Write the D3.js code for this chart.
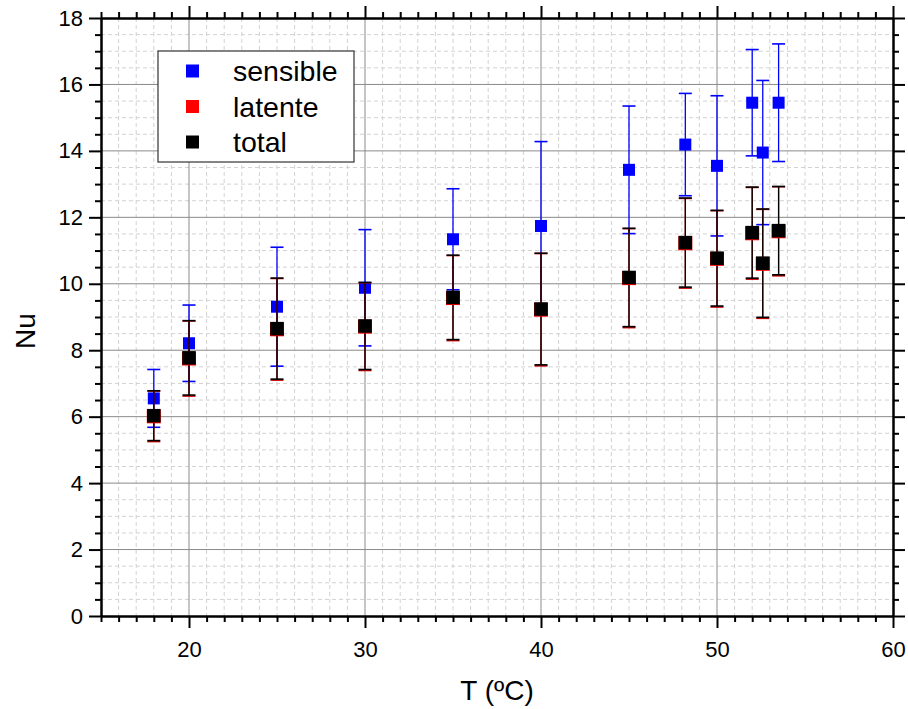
<!DOCTYPE html>
<html lang="en">
<head>
<meta charset="UTF-8">
<title>Nu vs T</title>
<script src="https://cdn.jsdelivr.net/npm/d3@7/dist/d3.min.js"></script>
<style>
  body { margin: 0; background: #fff; }
  text { font-family: Arial, "Liberation Sans", sans-serif; fill: #000; }
</style>
</head>
<body>
<div class="chart"></div>
<script>
// data
const temps       = [18, 20, 25, 30, 35, 40, 45, 48.2, 50, 52, 52.6, 53.5]
const sensible    = [6.55, 8.21, 9.31, 9.88, 11.34, 11.74, 13.43, 14.19, 13.55, 15.45, 13.95, 15.45]
const sensibleErr = [0.87, 1.15, 1.79, 1.75, 1.52, 2.54, 1.92, 1.54, 2.11, 1.60, 2.17, 1.77]
const latente     = [6.01, 7.75, 8.63, 8.71, 9.57, 9.22, 10.17, 11.22, 10.75, 11.52, 10.60, 11.58]
const latenteErr  = [0.76, 1.13, 1.53, 1.32, 1.28, 1.69, 1.49, 1.35, 1.45, 1.38, 1.64, 1.34]
const total       = [6.03, 7.77, 8.65, 8.73, 9.59, 9.24, 10.19, 11.24, 10.77, 11.54, 10.62, 11.60]
const totalErr    = [0.75, 1.12, 1.52, 1.31, 1.27, 1.68, 1.48, 1.34, 1.44, 1.37, 1.63, 1.33]
const xMajor = [20, 30, 40, 50, 60]
const yMajor = [0, 2, 4, 6, 8, 10, 12, 14, 16, 18]
const seriesNames = ['sensible', 'latente', 'total']
const seriesColors = ['#0000ff', '#ff0000', '#000000']

const W = 908, H = 709
const pLeft = 101, pRight = 893, pTop = 18, pBottom = 616

const x = d3.scaleLinear().domain([15, 60]).range([pLeft, pRight])
const y = d3.scaleLinear().domain([0, 18]).range([pBottom, pTop])

const xMinor = d3.range(15, 60.01, 1).filter(v => xMajor.indexOf(v) < 0)
const yMinor = d3.range(0, 18.01, 0.5).filter(v => yMajor.indexOf(v) < 0)

const svg = d3.select('.chart').append('svg').attr('width', W).attr('height', H)

// grid
const grid = svg.append('g')
grid.selectAll('.vmin').data(xMinor).enter().append('line')
    .attr('x1', d => x(d)).attr('x2', d => x(d)).attr('y1', pTop).attr('y2', pBottom)
    .attr('stroke', '#d2d2d2').attr('stroke-dasharray', '4,3')
grid.selectAll('.hmin').data(yMinor).enter().append('line')
    .attr('y1', d => y(d)).attr('y2', d => y(d)).attr('x1', pLeft).attr('x2', pRight)
    .attr('stroke', '#d2d2d2').attr('stroke-dasharray', '4,3')
grid.selectAll('.vmaj').data(xMajor.slice(0, -1)).enter().append('line')
    .attr('x1', d => x(d)).attr('x2', d => x(d)).attr('y1', pTop).attr('y2', pBottom)
    .attr('stroke', '#8a8a8a')
grid.selectAll('.hmaj').data(yMajor.slice(1, -1)).enter().append('line')
    .attr('y1', d => y(d)).attr('y2', d => y(d)).attr('x1', pLeft).attr('x2', pRight)
    .attr('stroke', '#8a8a8a')

// axes: majors with labels, minors as short ticks, on all four sides
function styleAxis(g) {
    g.selectAll('.domain').attr('stroke-width', 2)
    g.selectAll('.tick line').attr('stroke-width', 2)
    g.selectAll('.tick text').style('font-size', '22px').style('font-family', 'Arial, "Liberation Sans", sans-serif')
}
const axes = [
    [d3.axisBottom, x, xMajor, xMinor, true, 'translate(0,' + pBottom + ')'],
    [d3.axisTop, x, xMajor, xMinor, false, 'translate(0,' + pTop + ')'],
    [d3.axisLeft, y, yMajor, yMinor, true, 'translate(' + pLeft + ',0)'],
    [d3.axisRight, y, yMajor, yMinor, false, 'translate(' + pRight + ',0)']
]
axes.forEach(a => {
    const [fn, sc, maj, min, labels, tr] = a
    svg.append('g').attr('transform', tr)
        .call(fn(sc).tickValues(min).tickSize(6).tickSizeOuter(0).tickFormat(''))
        .call(styleAxis)
    const gm = svg.append('g').attr('transform', tr)
        .call(fn(sc).tickValues(maj).tickSize(12).tickSizeOuter(0).tickPadding(labels ? 6 : 0)
            .tickFormat(labels ? d3.format('d') : ''))
        .call(styleAxis)
    if (fn === d3.axisBottom) gm.selectAll('.tick text').attr('dy', '1.05em')
})

// axis titles
svg.append('text').attr('x', (pLeft + pRight) / 2).attr('y', 700)
    .attr('text-anchor', 'middle').style('font-size', '28px').text('T (ºC)')
svg.append('text').attr('transform', 'translate(35,' + 331 + ') rotate(-90)')
    .attr('text-anchor', 'middle').style('font-size', '28px').text('Nu')

// error bars + markers
function drawBars(vals, errs, color) {
    const g = svg.append('g')
    const rows = temps.map((t, i) => ({t: t, v: vals[i], e: errs[i]}))
    g.selectAll('.bar').data(rows).enter().append('line')
        .attr('x1', d => x(d.t)).attr('x2', d => x(d.t))
        .attr('y1', d => y(d.v + d.e)).attr('y2', d => y(d.v - d.e))
        .attr('stroke', color).attr('stroke-width', 1.3)
    g.selectAll('.capT').data(rows).enter().append('line')
        .attr('x1', d => x(d.t) - 6.5).attr('x2', d => x(d.t) + 6.5)
        .attr('y1', d => y(d.v + d.e)).attr('y2', d => y(d.v + d.e))
        .attr('stroke', color).attr('stroke-width', 1.6)
    g.selectAll('.capB').data(rows).enter().append('line')
        .attr('x1', d => x(d.t) - 6.5).attr('x2', d => x(d.t) + 6.5)
        .attr('y1', d => y(d.v - d.e)).attr('y2', d => y(d.v - d.e))
        .attr('stroke', color).attr('stroke-width', 1.6)
}
function drawMarkers(vals, color, size) {
    svg.append('g').selectAll('rect').data(temps).enter().append('rect')
        .attr('x', d => x(d) - size / 2).attr('y', (d, i) => y(vals[i]) - size / 2)
        .attr('width', size).attr('height', size).attr('fill', color)
}
drawBars(sensible, sensibleErr, '#0000ff')
drawMarkers(sensible, '#0000ff', 12)
drawBars(latente, latenteErr, '#d00000')
drawBars(total, totalErr, '#000000')
drawMarkers(latente, '#ff0000', 14)
drawMarkers(total, '#000000', 13.5)

// legend
const lg = svg.append('g')
lg.append('rect').attr('x', 158).attr('y', 51).attr('width', 196).attr('height', 111)
    .attr('fill', '#fff').attr('stroke', '#333').attr('stroke-width', 1.2)
seriesNames.forEach((n, i) => {
    const cy = 71 + i * 35.5
    lg.append('rect').attr('x', 186).attr('y', cy - 6.5).attr('width', 13).attr('height', 13)
        .attr('fill', seriesColors[i])
    lg.append('text').attr('x', 233).attr('y', cy + 10).style('font-size', '28.5px').text(n)
})
</script>
</body>
</html>
